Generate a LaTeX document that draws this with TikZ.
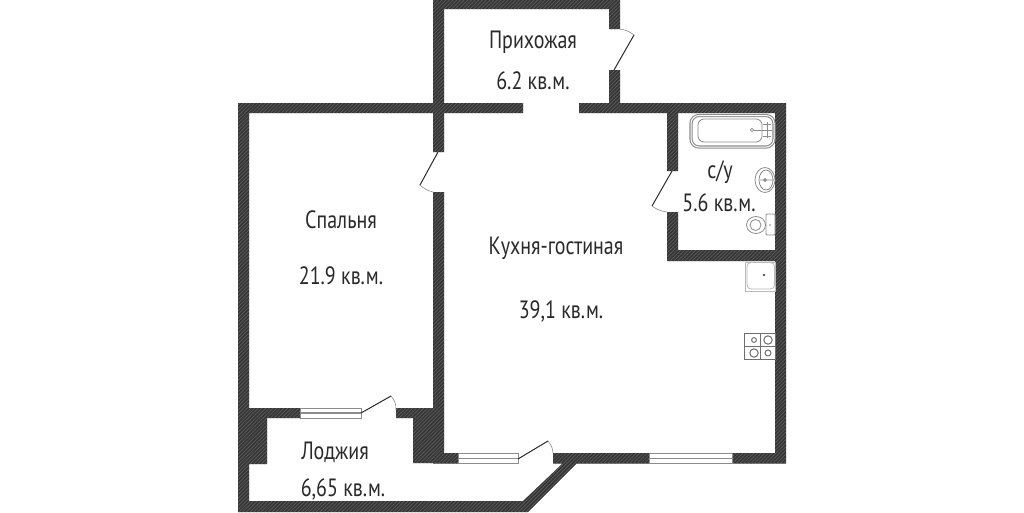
\documentclass[tikz,border=0pt]{standalone}
\usepackage{fontspec}
\setmainfont[FakeStretch=0.8]{PT Sans}
\usetikzlibrary{patterns.meta}
\definecolor{walldark}{HTML}{353535}
\definecolor{wallhatch}{HTML}{5E5E5E}
\definecolor{fixt}{HTML}{8C8C8C}
\definecolor{ink}{HTML}{2A2A2A}
\tikzset{
  wall/.style={fill=walldark,postaction={pattern={Lines[angle=45,distance=2.6pt,line width=.7pt]},pattern color=wallhatch}},
  leaf/.style={draw=ink,line width=1pt},
  swing/.style={draw=fixt,line width=.6pt},
  fixture/.style={draw=fixt,line width=.8pt,fill=white},
  glass/.style={draw=fixt,line width=.7pt,fill=white},
  glassline/.style={draw=fixt,line width=1.3pt},
  label/.style={font=\fontsize{25}{25}\selectfont,text=ink,inner sep=0pt,anchor=base}
}
\begin{document}
\begin{tikzpicture}[x=1pt,y=-1pt]
\useasboundingbox (0,0) rectangle (1024,512);
\fill[white] (0,0) rectangle (1024,512);
% walls
\path[wall]
  (433,0) rectangle (620,9)
  (433,0) rectangle (444,152)
  (609,0) rectangle (620,29)
  (609,70) rectangle (620,113)
  (238,103) rectangle (523,113)
  (579,103) rectangle (786,113)
  (238,103) rectangle (249,512)
  (433,192) rectangle (444,463)
  (249,408) rectangle (300,418)
  (396,408) rectangle (444,418)
  (238,418) rectangle (267,464)
  (413,418) rectangle (433,463)
  (433,453) rectangle (458,463.5)
  (553,453) rectangle (649,463.5)
  (732,453) rectangle (786,463.5)
  (775,103) rectangle (786,463.5)
  (667,113) rectangle (678,171)
  (667,212) rectangle (678,261)
  (667,250) rectangle (775,261)
  (238,501) -- (238,512) -- (528,512) -- (577,463) -- (563,463) -- (523,501) -- cycle;
% windows
\draw[glass] (300,408) rectangle (361,418);
\draw[glassline] (300,413) -- (361,413);
\draw[glass] (458,453) rectangle (518,463.5);
\draw[glassline] (458,458.5) -- (518,458.5);
\draw[glass] (649,453) rectangle (732,463.5);
\draw[glassline] (649,458.5) -- (732,458.5);
% doors
\draw[leaf] (614,70) -- (634,35);
\draw[swing] (620,29) to[bend left=14] (634,35);
\draw[leaf] (438,152) -- (420,185);
\draw[swing] (420,185) to[bend right=14] (433,192);
\draw[leaf] (672,171) -- (652,206);
\draw[swing] (652,206) to[bend right=14] (667,212);
\draw[leaf] (361,413) -- (391,396);
\draw[swing] (391,396) to[bend left=22] (396,410);
\draw[leaf] (518,459) -- (548,441);
\draw[swing] (548,441) to[bend left=18] (553,453);
% bath
\draw[fixture,line width=1.1pt,double=white,double distance=1pt,rounded corners=8pt] (691,115.5) rectangle (774,147);
\draw[fixture,rounded corners=6pt] (698,119) rectangle (762,142);
\draw[fixt,line width=.7pt] (752,130) circle (1.6);
\draw[fixt,line width=.9pt] (754,130) -- (772,130) (767,122) -- (767,138) (763,124) -- (771,124) (763,136) -- (771,136);
% basin
\draw[fixture] (765,180) ellipse (10 and 12.5);
\draw[fixture] (766,180) ellipse (7 and 10);
\draw[fixt,line width=.8pt] (760,180) -- (774,180) (765,180) circle (1.5);
% toilet
\draw[fixture] (756,225) ellipse (9.5 and 8.5);
\draw[fixture] (755.5,225) ellipse (5.5 and 5.5);
\draw[fixture,rounded corners=1pt] (766,214) rectangle (775,235);
\fill[fixt] (770,225) circle (.8);
% kitchen sink
\draw[fixture,draw=fixt!60] (745,262) rectangle (775,291);
\draw[fixture,draw=fixt!60,rounded corners=4pt] (747,262.5) rectangle (774.5,289);
\fill[fixt!60!black] (764,275) circle (1.3);
% stove
\draw[draw=fixt!80!black,line width=.8pt,fill=white] (744,333) rectangle (775,359);
\draw[draw=fixt!80!black,line width=.8pt] (760,333) -- (760,359) (744,346) -- (775,346);
\foreach \cx/\cy/\r in {754/340/2.4, 768/340/4.2, 754/353/4.2, 768/353/3}{
  \draw[fixt!80!black,line width=1pt] (\cx,\cy) circle (\r);
}
% labels
\node[label] (hall) at (533,48) {Прихожая};
\node[label] (hallarea) at (533,89) {6.2 кв.м.};
\node[label] (bed) at (341,228) {Спальня};
\node[label] (bedarea) at (341,284) {21.9 кв.м.};
\node[label] (kitchen) at (556,254) {Кухня-гостиная};
\node[label] (kitchenarea) at (561,318) {39,1 кв.м.};
\node[label] (bath) at (720,178) {с/у};
\node[label] (batharea) at (719,211) {5.6 кв.м.};
\node[label] (loggia) at (335,459) {Лоджия};
\node[label] (loggiaarea) at (343,496) {6,65 кв.м.};
\end{tikzpicture}
\end{document}
